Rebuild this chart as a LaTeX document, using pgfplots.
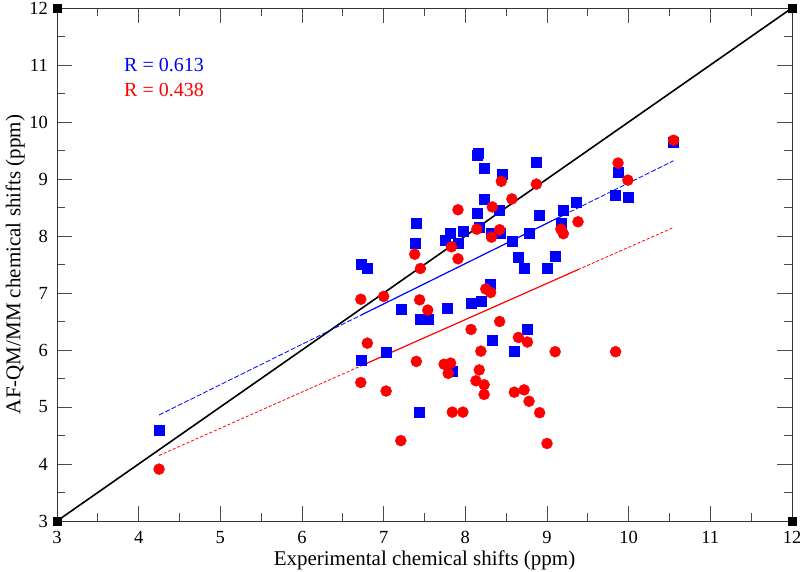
\documentclass[border=0pt]{standalone}
\usepackage{fontspec}
\setmainfont{Liberation Serif}
\usepackage{pgfplots}
\pgfplotsset{compat=1.18}
\begin{document}
\begin{tikzpicture}
\begin{axis}[
  at={(0,0)}, anchor=south west,
  scale only axis, width=735pt, height=513pt,
  xmin=3, xmax=12, ymin=3, ymax=12,
  xtick={3,4,...,12}, ytick={3,4,...,12},
  minor tick num=1,
  major tick length=15pt, minor tick length=8pt,
  tick align=inside,
  axis line style={black!80, line width=0.9pt},
  every tick/.style={black!70, line width=0.9pt},
  /pgf/number format/assume math mode=true,
  ticklabel style={font=\fontsize{18.5}{22}\selectfont, inner sep=1pt},
  xticklabel style={anchor=base, yshift=-23pt},
  yticklabel style={xshift=-8pt},
  label style={font=\fontsize{21}{25}\selectfont, inner sep=1pt},
  xlabel={Experimental chemical shifts (ppm)},
  ylabel={AF-QM/MM chemical shifts (ppm)},
  xlabel style={at={(axis description cs:0.5,-0.0858)}, anchor=base},
  ylabel style={at={(axis description cs:-0.057,0.5)}, anchor=center},
  clip=false,
]
% diagonal
\addplot[black, line width=1.6pt] coordinates {(3,3) (12,12)};
% blue regression
\addplot[blue, line width=0.8pt, dash pattern=on 5pt off 2pt] coordinates {(4.25,4.86) (6.72,6.61)};
\addplot[blue, line width=1.2pt] coordinates {(6.72,6.61) (9.20,8.365)};
\addplot[blue, line width=0.8pt, dash pattern=on 5pt off 2pt] coordinates {(9.20,8.365) (10.55,9.32)};
% red regression
\addplot[red, line width=0.8pt, dash pattern=on 3pt off 2pt] coordinates {(4.25,4.15) (6.72,5.72)};
\addplot[red, line width=1.2pt] coordinates {(6.72,5.72) (9.38,7.41)};
\addplot[red, line width=0.8pt, dash pattern=on 3pt off 2pt] coordinates {(9.38,7.41) (10.55,8.15)};
% blue squares
\addplot[only marks, mark=square*, mark size=5pt, blue, mark options={draw=blue, fill=blue}] coordinates {
(4.25,4.60) (6.72,7.51) (6.80,7.43) (6.72,5.82) (7.03,5.96) (7.21,6.72)
(7.38,7.87) (7.40,8.23) (7.44,4.91) (7.45,6.54) (7.54,6.54) (7.75,7.92)
(7.78,6.74) (7.82,8.05) (7.84,5.62) (7.91,7.87) (7.97,8.09) (8.07,6.82)
(8.14,9.42) (8.16,9.45) (8.14,8.40) (8.17,8.16) (8.19,6.85) (8.23,9.19)
(8.23,8.64) (8.31,7.16) (8.32,8.05) (8.33,6.18) (8.42,8.46) (8.43,8.05)
(8.45,9.09) (8.57,7.91) (8.60,5.98) (8.65,7.62) (8.72,7.44) (8.76,6.36)
(8.78,8.05) (8.87,9.29) (8.91,8.37) (9.00,7.43) (9.10,7.64) (9.17,8.22)
(9.20,8.46) (9.36,8.60) (9.84,8.72) (9.87,9.12) (9.99,8.68) (10.55,9.64)
};
% red circles
\addplot[only marks, mark=*, mark size=5.5pt, red, mark options={draw=red, fill=red}] coordinates {
(4.25,3.91) (6.72,6.89) (6.72,5.43) (6.80,6.12) (7.00,6.94) (7.03,5.28)
(7.21,4.41) (7.38,7.68) (7.40,5.80) (7.44,6.88) (7.45,7.43) (7.54,6.70)
(7.74,5.75) (7.79,5.59) (7.82,5.77) (7.83,7.81) (7.84,4.91) (7.91,8.46)
(7.91,7.60) (7.97,4.91) (8.07,6.36) (8.14,8.12) (8.13,5.46) (8.17,5.65)
(8.19,5.98) (8.23,5.39) (8.23,5.22) (8.25,7.07) (8.31,7.01) (8.32,7.98)
(8.33,8.51) (8.42,8.11) (8.42,6.50) (8.44,8.96) (8.57,8.65) (8.60,5.26)
(8.65,6.22) (8.72,5.30) (8.76,6.14) (8.78,5.10) (8.87,8.91) (8.91,4.90)
(9.00,4.36) (9.10,5.97) (9.17,8.12) (9.20,8.04) (9.38,8.25) (9.84,5.97)
(9.87,9.28) (9.99,8.98) (10.55,9.68)
};
% corner markers
\addplot[only marks, mark=square*, mark size=4pt, black] coordinates {(3,3) (12,3) (3,12) (12,12)};
\node[anchor=west, blue, font=\fontsize{20}{24}\selectfont] at (axis cs:3.78,11.0) {R = 0.613};
\node[anchor=west, red, font=\fontsize{20}{24}\selectfont] at (axis cs:3.78,10.56) {R = 0.438};
\end{axis}
\pgfresetboundingbox
\path (-57pt,-51pt) rectangle (743pt,521pt);
\end{tikzpicture}
\end{document}
